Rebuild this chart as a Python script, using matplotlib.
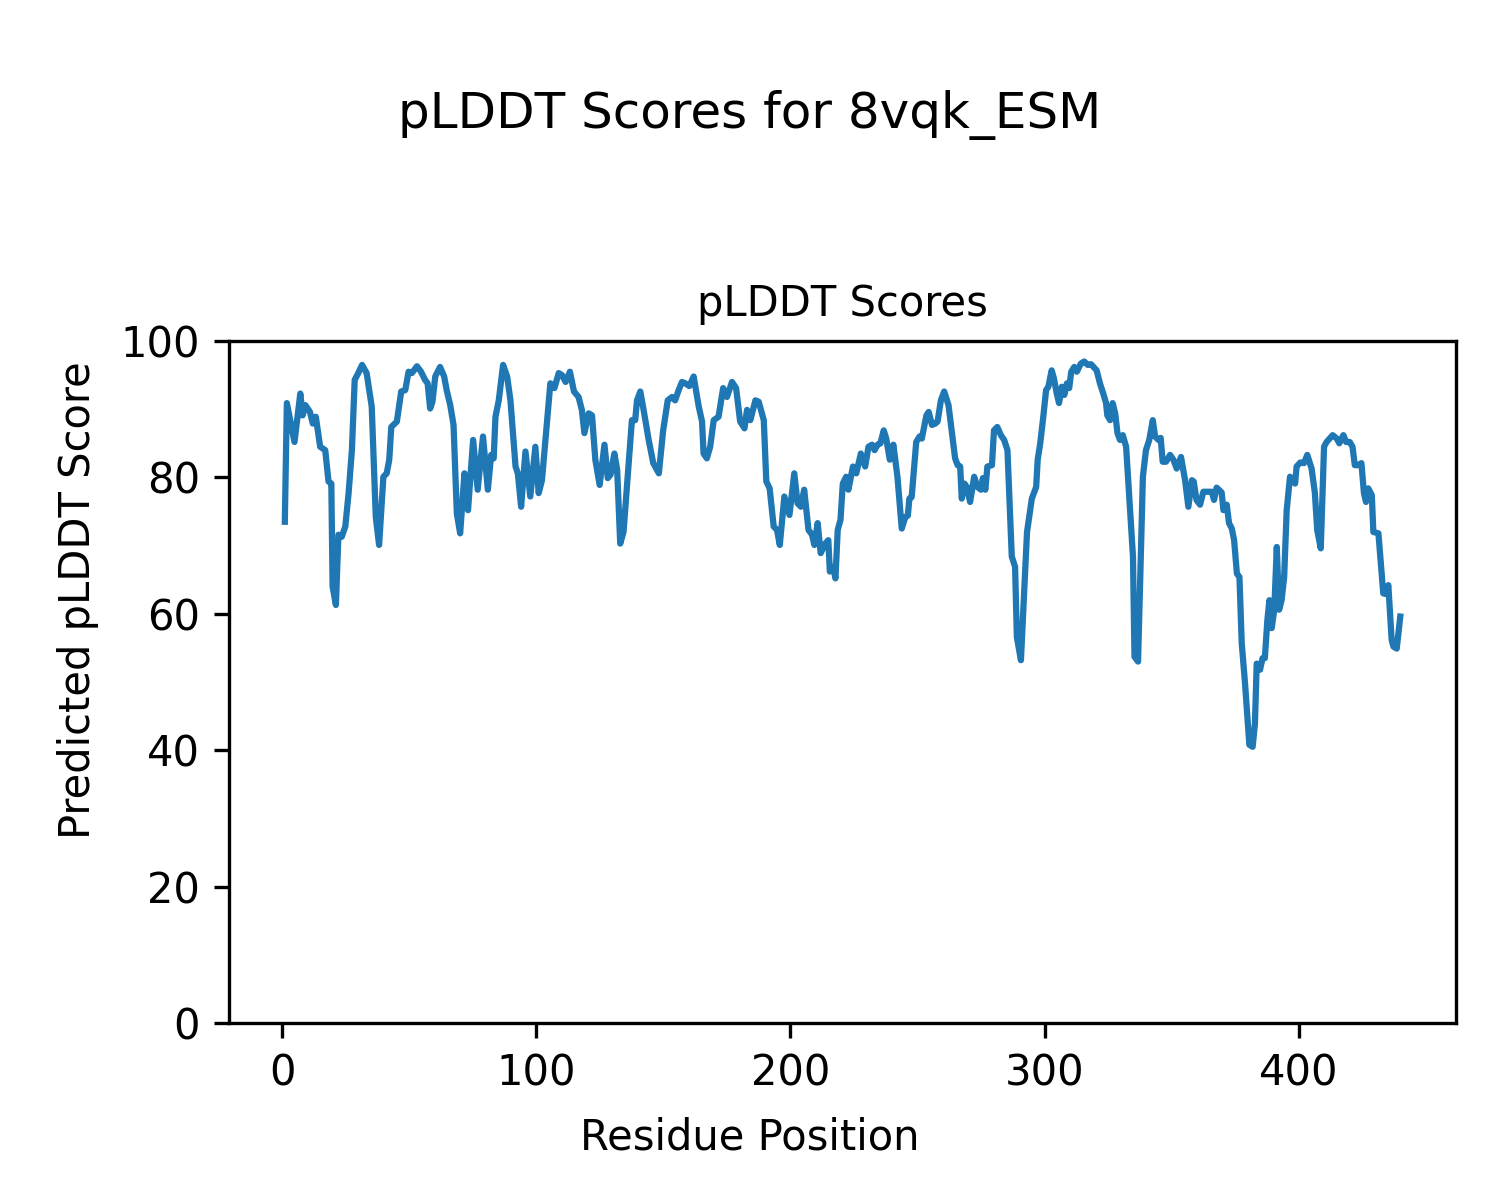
import matplotlib
matplotlib.use("Agg")
import matplotlib.pyplot as plt

# pLDDT trace (residue position, score)
residue = [
    1.0, 1.8, 4.8, 7.1, 8.0, 9.1, 10.9, 12.0, 13.2, 14.9, 16.9, 18.2, 19.3, 19.8, 21.1,
    22.1, 23.4, 24.8, 26.1, 27.4, 28.5, 29.9, 31.4, 33.2, 35.2, 36.8, 38.1, 39.8, 41.1,
    42.1, 42.9, 45.1, 46.8, 48.4, 49.7, 51.0, 53.0, 54.6, 56.2, 57.2, 58.2, 59.1, 60.2,
    62.1, 63.7, 64.7, 66.1, 67.4, 68.7, 70.0, 71.7, 73.1, 75.1, 76.9, 79.0, 80.9, 82.2,
    83.2, 83.9, 85.2, 86.9, 88.5, 89.8, 91.8, 92.7, 94.0, 95.7, 97.6, 99.6, 100.9, 102.2,
    104.0, 105.5, 107.1, 108.8, 110.1, 111.5, 113.2, 114.8, 116.6, 117.9, 118.9, 120.6,
    121.9, 123.2, 124.9, 126.8, 128.1, 129.2, 130.7, 131.8, 133.0, 134.3, 137.6, 138.9,
    139.6, 140.9, 142.2, 144.2, 146.0, 148.2, 149.9, 151.7, 153.4, 154.6, 156.0, 157.3,
    158.6, 160.2, 161.9, 163.9, 165.2, 165.8, 167.1, 168.4, 169.8, 171.7, 173.5, 175.0,
    177.0, 178.6, 180.2, 181.9, 182.9, 184.2, 186.2, 187.5, 189.5, 190.5, 191.8, 193.4,
    194.7, 195.8, 197.6, 199.6, 201.5, 202.8, 204.1, 205.4, 207.1, 208.5, 209.4, 210.7,
    211.9, 213.7, 214.9, 215.5, 216.8, 217.7, 218.6, 219.7, 220.6, 221.9, 222.8, 224.6,
    225.9, 227.7, 229.4, 230.7, 232.1, 233.1, 234.3, 235.4, 236.7, 237.7, 239.1, 240.5,
    242.1, 243.8, 245.2, 246.2, 246.8, 247.7, 249.5, 250.8, 251.7, 253.5, 254.4, 255.7,
    257.0, 257.9, 259.2, 260.5, 262.2, 263.9, 264.8, 265.8, 266.8, 267.4, 268.5, 269.4,
    270.7, 272.3, 273.6, 275.0, 275.7, 276.7, 277.5, 279.3, 280.1, 281.4, 282.8, 284.1,
    285.4, 287.1, 288.4, 289.1, 290.7, 293.1, 295.0, 296.7, 297.3, 298.3, 299.5, 300.6,
    301.5, 302.8, 303.7, 304.8, 305.7, 306.8, 307.8, 308.8, 309.7, 310.5, 311.7, 312.7,
    314.3, 315.6, 317.0, 318.3, 320.5, 321.8, 323.1, 324.2, 324.7, 325.8, 326.8, 327.8,
    328.7, 329.7, 330.8, 332.1, 333.4, 334.8, 335.4, 336.8, 337.9, 338.7, 339.9, 341.2,
    342.6, 343.5, 344.8, 345.7, 346.5, 347.8, 349.4, 350.7, 352.0, 353.7, 355.3, 356.6,
    358.0, 358.7, 359.8, 361.2, 362.5, 364.5, 365.8, 366.7, 367.7, 369.7, 370.4, 371.7,
    372.6, 373.7, 374.6, 375.7, 376.7, 377.6, 378.9, 380.6, 381.9, 382.8, 383.5, 384.8,
    385.8, 386.7, 387.7, 388.5, 389.4, 390.4, 391.4, 392.3, 393.3, 394.3, 395.3, 396.6,
    398.6, 399.2, 400.7, 402.1, 403.4, 405.1, 406.4, 407.3, 408.7, 410.0, 411.0, 413.4,
    415.0, 416.0, 417.6, 418.7, 420.1, 421.2, 422.1, 423.4, 424.7, 425.7, 426.5, 427.4,
    428.8, 429.4, 431.4, 433.3, 434.4, 435.3, 436.6, 437.3, 438.6, 440.0,
]
plddt = [
    73.5, 90.9, 85.2, 92.3, 89.1, 90.6, 89.6, 87.9, 88.9, 84.5, 84.0, 79.4, 79.1, 64.0, 61.3,
    71.6, 71.3, 72.8, 77.7, 84.0, 94.3, 95.3, 96.5, 95.3, 90.4, 74.2, 70.1, 80.1, 80.6,
    82.6, 87.4, 88.2, 92.6, 92.8, 95.5, 95.3, 96.3, 95.5, 94.3, 93.8, 90.1, 91.1, 94.8,
    96.2, 94.8, 92.8, 90.6, 87.7, 74.7, 71.8, 80.6, 75.2, 85.5, 78.2, 86.0, 78.2, 83.3,
    82.8, 88.9, 91.3, 96.5, 94.8, 91.3, 81.6, 80.6, 75.7, 83.8, 77.2, 84.5, 77.7, 79.6,
    87.4, 93.8, 93.1, 95.3, 95.0, 94.0, 95.5, 92.6, 91.8, 89.9, 86.5, 89.4,
    89.1, 82.6, 78.9, 84.8, 79.9, 80.4, 83.5, 81.1, 70.3, 72.0, 88.4, 88.4,
    91.3, 92.6, 89.9, 85.5, 82.1, 80.6, 86.9, 91.3, 91.8, 91.3, 92.8, 94.0,
    93.8, 93.4, 94.8, 90.4, 88.2, 83.5, 82.8, 84.5, 88.4, 88.9, 93.1, 91.8,
    94.0, 93.1, 88.2, 87.2, 89.9, 88.4, 91.3, 91.1, 88.4, 79.4, 78.4, 72.8,
    72.3, 70.1, 77.2, 74.5, 80.6, 76.2, 75.7, 78.2, 72.3, 71.6, 70.1, 73.3,
    68.9, 70.3, 70.8, 66.2, 66.9, 65.2, 72.3, 73.8, 79.1, 80.1, 78.2, 81.6,
    80.6, 83.5, 81.6, 84.5, 84.8, 84.0, 84.8, 85.0, 86.9, 85.7, 82.6, 84.8,
    80.1, 72.5, 74.2, 74.4, 76.9, 77.1, 85.2, 86.0, 85.7, 89.1, 89.6, 87.7,
    87.9, 88.2, 91.3, 92.6, 90.6, 85.5, 82.8, 81.8, 81.6, 76.9, 79.1, 78.6,
    76.4, 80.1, 78.6, 78.2, 79.9, 78.2, 81.6, 81.8, 86.9, 87.4, 86.2, 85.5,
    84.0, 68.4, 66.9, 56.6, 53.2, 72.0, 76.9, 78.6, 82.6, 85.0, 88.9, 92.8,
    93.3, 95.7, 94.5, 92.3, 90.9, 93.3, 92.1, 93.8, 93.1, 95.5, 96.2, 95.5,
    96.7, 97.0, 96.5, 96.6, 95.7, 93.8, 92.3, 90.9, 89.1, 88.4, 90.9, 89.4,
    86.5, 85.5, 86.2, 84.5, 76.7, 68.4, 53.7, 53.0, 68.4, 80.1, 84.0, 85.5,
    88.4, 86.0, 85.5, 85.8, 82.3, 82.3, 83.3, 82.6, 81.3, 83.0, 79.6, 75.7,
    79.6, 79.4, 76.7, 76.0, 77.9, 77.9, 77.9, 76.7, 78.5, 77.8, 75.2, 76.0,
    73.3, 72.5, 70.8, 65.9, 65.4, 55.7, 49.8, 40.8, 40.5, 43.9, 52.7, 51.8,
    53.5, 53.5, 59.1, 62.0, 57.9, 60.6, 69.8, 60.6, 62.0, 65.4, 75.2, 80.1,
    79.1, 81.6, 82.2, 82.1, 83.3, 81.3, 77.7, 72.3, 69.6, 84.5, 85.2, 86.2,
    85.7, 85.0, 86.2, 85.2, 85.2, 84.5, 81.8, 81.8, 82.1, 77.7, 76.4, 78.4,
    77.4, 72.0, 71.8, 63.0, 62.9, 64.2, 56.2, 55.2, 54.9, 59.6,
]

fig = plt.figure(figsize=(5, 4), dpi=300)
ax = fig.add_axes([0.1527, 0.1475, 0.8180, 0.5683])
ax.plot(residue, plddt, color="#1f77b4", linewidth=1.5)
ax.set_ylim(0, 100)
ax.set_title("pLDDT Scores", fontsize=10)
fig.suptitle("pLDDT Scores for 8vqk_ESM", fontsize=12, y=0.925)
fig.supxlabel("Residue Position", fontsize=10, y=0.0517, va="center")
fig.supylabel("Predicted pLDDT Score", fontsize=10, x=0.052, ha="center", va="center")

fig.savefig("out.png", dpi=300)
